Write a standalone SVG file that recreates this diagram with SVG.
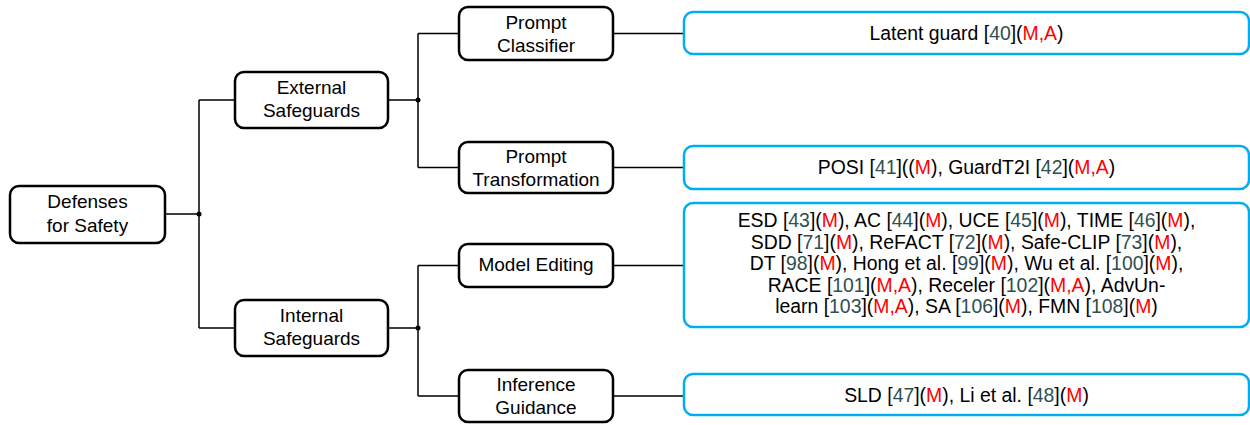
<svg xmlns="http://www.w3.org/2000/svg" width="1250" height="425" viewBox="0 0 1250 425">
<style>
  text { font-family: "Liberation Sans", Arial, Helvetica, sans-serif; font-size: 19px; fill: #000; text-anchor: middle; }
  .lt { font-size: 19.4px; }
  .node { fill: #fff; stroke: #000; stroke-width: 2.5; }
  .leaf { fill: #fff; stroke: #00AEEF; stroke-width: 2.5; }
  .conn { fill: none; stroke: #000; stroke-width: 1.5; }
  .dot { fill: #000; }
  .c { fill: #2F4F4F; }
  .r { fill: #FF0000; }
</style>
<rect width="1250" height="425" fill="#fff"/>
<g id="connectors">
  <path class="conn" d="M165,214 H199 M199,100 V328 M199,100 H235 M199,328 H235"/>
  <path class="conn" d="M388,100 H418 M418,33.5 V167.5 M418,33.5 H459 M418,167.5 H459"/>
  <path class="conn" d="M388,328 H418 M418,265.5 V396 M418,265.5 H459 M418,396 H459"/>
  <path class="conn" d="M613,33.5 H684 M613,167.5 H684 M613,265.5 H684 M613,396 H684"/>
  <circle class="dot" cx="199" cy="214" r="2.5"/>
  <circle class="dot" cx="418" cy="100" r="2.5"/>
  <circle class="dot" cx="418" cy="328" r="2.5"/>
</g>
<g id="root">
  <rect class="node" x="10" y="186" width="155" height="57" rx="9"/>
  <text x="87.5" y="207.5">Defenses</text>
  <text x="87.5" y="231.5">for Safety</text>
</g>
<g id="external">
  <rect class="node" x="235" y="72" width="153" height="56" rx="9"/>
  <text x="311.5" y="93.5">External</text>
  <text x="311.5" y="116.5">Safeguards</text>
</g>
<g id="internal">
  <rect class="node" x="235" y="300" width="153" height="56" rx="9"/>
  <text x="311.5" y="321.5">Internal</text>
  <text x="311.5" y="344.5">Safeguards</text>
</g>
<g id="prompt-classifier">
  <rect class="node" x="459" y="7" width="154" height="53" rx="9"/>
  <text x="536" y="29">Prompt</text>
  <text x="536" y="51.5">Classifier</text>
</g>
<g id="prompt-transformation">
  <rect class="node" x="459" y="142" width="154" height="51" rx="9"/>
  <text x="536" y="163">Prompt</text>
  <text x="536" y="185.5">Transformation</text>
</g>
<g id="model-editing">
  <rect class="node" x="459" y="244" width="154" height="43" rx="9"/>
  <text x="536" y="271">Model Editing</text>
</g>
<g id="inference-guidance">
  <rect class="node" x="459" y="370" width="154" height="52" rx="9"/>
  <text x="536" y="391">Inference</text>
  <text x="536" y="414">Guidance</text>
</g>
<g id="leaf-latent">
  <rect class="leaf" x="684" y="12" width="565" height="42" rx="9"/>
  <text class="lt" x="966.5" y="40">Latent guard [<tspan class="c">40</tspan>](<tspan class="r">M,A</tspan>)</text>
</g>
<g id="leaf-posi">
  <rect class="leaf" x="684" y="146" width="565" height="43" rx="9"/>
  <text class="lt" x="966.5" y="174">POSI [<tspan class="c">41</tspan>]((<tspan class="r">M</tspan>), GuardT2I [<tspan class="c">42</tspan>](<tspan class="r">M,A</tspan>)</text>
</g>
<g id="leaf-editing">
  <rect class="leaf" x="684" y="203" width="565" height="124" rx="9"/>
  <text class="lt" x="966.5" y="227">ESD [<tspan class="c">43</tspan>](<tspan class="r">M</tspan>), AC [<tspan class="c">44</tspan>](<tspan class="r">M</tspan>), UCE [<tspan class="c">45</tspan>](<tspan class="r">M</tspan>), TIME [<tspan class="c">46</tspan>](<tspan class="r">M</tspan>),</text>
  <text class="lt" x="966.5" y="248.5">SDD [<tspan class="c">71</tspan>](<tspan class="r">M</tspan>), ReFACT [<tspan class="c">72</tspan>](<tspan class="r">M</tspan>), Safe-CLIP [<tspan class="c">73</tspan>](<tspan class="r">M</tspan>),</text>
  <text class="lt" x="966.5" y="270">DT [<tspan class="c">98</tspan>](<tspan class="r">M</tspan>), Hong et al. [<tspan class="c">99</tspan>](<tspan class="r">M</tspan>), Wu et al. [<tspan class="c">100</tspan>](<tspan class="r">M</tspan>),</text>
  <text class="lt" x="966.5" y="291.5">RACE [<tspan class="c">101</tspan>](<tspan class="r">M,A</tspan>), Receler [<tspan class="c">102</tspan>](<tspan class="r">M,A</tspan>), AdvUn-</text>
  <text class="lt" x="966.5" y="313">learn [<tspan class="c">103</tspan>](<tspan class="r">M,A</tspan>), SA [<tspan class="c">106</tspan>](<tspan class="r">M</tspan>), FMN [<tspan class="c">108</tspan>](<tspan class="r">M</tspan>)</text>
</g>
<g id="leaf-sld">
  <rect class="leaf" x="684" y="374" width="565" height="41" rx="9"/>
  <text class="lt" x="966.5" y="401.5">SLD [<tspan class="c">47</tspan>](<tspan class="r">M</tspan>), Li et al. [<tspan class="c">48</tspan>](<tspan class="r">M</tspan>)</text>
</g>
</svg>
